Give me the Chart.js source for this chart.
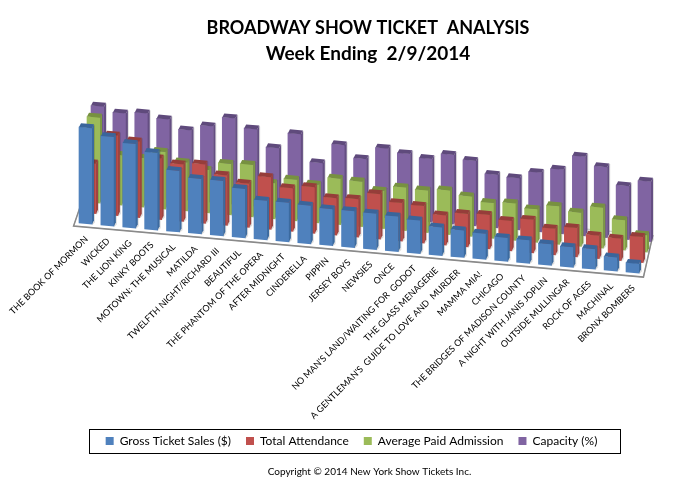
<!DOCTYPE html>
<html><head><meta charset="utf-8">
<style>html,body{margin:0;padding:0;background:#fff}canvas{display:block}</style>
<script src="https://cdn.jsdelivr.net/npm/chart.js@4"></script>
</head><body><canvas id="c" width="673" height="497"></canvas>
<script>
const shows = ["THE BOOK OF MORMON","WICKED","THE LION KING","KINKY BOOTS","MOTOWN: THE MUSICAL","MATILDA","TWELFTH NIGHT/RICHARD III","BEAUTIFUL","THE PHANTOM OF THE OPERA","AFTER MIDNIGHT","CINDERELLA","PIPPIN","JERSEY BOYS","NEWSIES","ONCE","NO MAN'S LAND/WAITING FOR  GODOT","THE GLASS MENAGERIE","A GENTLEMAN'S  GUIDE TO LOVE AND  MURDER","MAMMA MIA!","CHICAGO","THE BRIDGES OF MADISON COUNTY","A NIGHT WITH JANIS JOPLIN","OUTSIDE MULLINGAR","ROCK OF AGES","MACHINAL","BRONX BOMBERS"];
const grossTicketSales = [96,89,84,77,61,55,55,49,39,39,38,36.5,36.5,36,35,33,28,27,25.6,23.5,23,21,20,20,13.7,9.3];
const totalAttendance = [50,80,76,61,57,59,50,43.6,52,43,46,37,38,45,38,37,29.5,33,34,30,33,26,28.7,23,22,25.6];
const avgPaidAdmission = [85.5,50,49,57,48.5,43,51,52,35.5,41,38,46,45,37.6,43,42,44,40,35.4,37,33,38,33.6,40.6,30,17];
const capacityPct = [86,81,83,79,70,76,86,77,60,76,49,69,57,69.5,66,63,69,65,53,51.6,59,64,79,70.5,53.5,60];
const seriesNames = ["Gross Ticket Sales ($)","Total Attendance","Average Paid Admission","Capacity (%)"];
const frontColors = ["#4F81BD","#C0504D","#9BBB59","#8064A2"];
const topColors = ["#3A659B","#963D3A","#779140","#5F4A7C"];
const sideColors = ["#3B6A9F","#9C4340","#7D9844","#644E82"];
const titleMain = "BROADWAY SHOW TICKET  ANALYSIS";
const titleWeek = "Week Ending  2/9/2014";
const copyright = "Copyright © 2014 New York Show Tickets Inc.";

const SLOPE = 0.0896, DX = 4, DY = -10.5, FACE_DY = 4, FACE_DX = 2;
function origin(chart){ return chart.scales.x.getPixelForValue(0) - 6.5; }

const view3d = {
  id: "view3d",
  afterLayout(chart){
    const l = chart.legend;
    chart.boxes.forEach(b => {
      if (b.options && (b.options.text === titleMain || b.options.text === titleWeek)) { b.left += 9; b.right += 9; }
    });
    if (l){ l.left -= 7.5; l.right -= 7.5; l.top = 420; l.bottom = 457; }
  },
  beforeDraw(chart){
    const x = chart.scales.x, items = x.getLabelItems(chart.chartArea), o = origin(chart);
    const bottom = chart.chartArea.bottom;
    items.forEach((it, i) => {
      const px = x.getPixelForValue(i);
      it.options.translation = [px + 1, bottom + SLOPE * (px - o) + 14];
      it.options.rotation = -Math.PI / 4;
      it.options.textAlign = "right";
      it.options.textBaseline = "middle";
      it.textOffset = 0;
    });
  },
  beforeDatasetsDraw(chart){
    const c = chart.ctx, a = chart.chartArea, o = origin(chart);
    const yAt = x => a.bottom + SLOPE * (x - o);
    const fl = [a.left - 1, yAt(a.left - 1) + 3.5], fr = [a.right, yAt(a.right) + 3.5];
    const depth = 4 * DY, depthX = 4 * 3.6;
    const bl = [fl[0] + depthX, fl[1] + depth], br = [fr[0] + depthX - 5, fr[1] + depth];
    c.save();
    c.beginPath(); c.moveTo(...fl); c.lineTo(...fr); c.lineTo(...br); c.lineTo(...bl); c.closePath();
    c.fillStyle = "#fff"; c.fill();
    c.strokeStyle = "#c4c4c4"; c.lineWidth = 1; c.stroke();
    c.strokeStyle = "#8a8a8a"; c.lineWidth = 1.5;
    c.beginPath(); c.moveTo(bl[0], bl[1]); c.lineTo(...fl); c.lineTo(...fr); c.lineTo(br[0], br[1]); c.stroke();
    c.restore();
  },
  beforeDatasetDraw(chart, args){
    const c = chart.ctx, s = args.index, o = origin(chart);
    c.save();
    c.translate(DX * s, DY * s);
    c.transform(1, SLOPE, 0, 1, 0, -SLOPE * o);
  },
  afterDatasetDraw(chart, args){
    const c = chart.ctx, s = args.index;
    args.meta.data.forEach(b => {
      const L = b.x - b.width / 2, R = b.x + b.width / 2, T = b.y, B = b.base;
      c.fillStyle = "rgba(0,0,0,0.13)";
      c.beginPath(); c.moveTo(R + FACE_DX, T - FACE_DY); c.lineTo(R + FACE_DX + 1, T - FACE_DY + 1); c.lineTo(R + FACE_DX + 1, B - FACE_DY + 2); c.lineTo(R, B + 1); c.lineTo(R, T); c.closePath(); c.fill();
      c.fillStyle = sideColors[s];
      c.beginPath(); c.moveTo(R, T); c.lineTo(R + FACE_DX, T - FACE_DY); c.lineTo(R + FACE_DX, B - FACE_DY); c.lineTo(R, B); c.closePath(); c.fill();
      c.fillStyle = topColors[s];
      c.beginPath(); c.moveTo(L, T); c.lineTo(L + FACE_DX, T - FACE_DY); c.lineTo(R + FACE_DX, T - FACE_DY); c.lineTo(R, T); c.closePath(); c.fill();
    });
    c.restore();
  },
  afterDraw(chart){
    const c = chart.ctx;
    c.save(); c.strokeStyle = "#000"; c.lineWidth = 1;
    c.strokeRect(89.5, 429.5, 531, 24);
    c.fillStyle = "#000"; c.font = "10px Lato"; c.textAlign = "center"; c.textBaseline = "middle";
    c.fillText(copyright, 369.5, 472);
    c.restore();
  }
};

const series = [grossTicketSales, totalAttendance, avgPaidAdmission, capacityPct];
new Chart(document.getElementById("c"), {
  type: "bar",
  data: {
    labels: shows,
    datasets: series.map((d, i) => ({ label: seriesNames[i], data: d, backgroundColor: frontColors[i], clip: false, borderWidth: 0 }))
  },
  options: {
    responsive: false, animation: false,
    layout: { padding: { left: 74.56, right: 29.56, top: 0, bottom: 0 } },
    datasets: { bar: { grouped: false, barThickness: 13 } },
    plugins: {
      tooltip: { enabled: false },
      title: { display: true, text: titleMain, color: "#000", font: { family: "Lato", size: 18, weight: "bold", lineHeight: 1.44 }, padding: { top: 15, bottom: 0 } },
      subtitle: { display: true, text: titleWeek, color: "#000", font: { family: "Lato", size: 19, weight: "bold", lineHeight: 1.3684 }, padding: { top: 0, bottom: 36.08 } },
      legend: { position: "bottom", labels: { boxWidth: 8, boxHeight: 8, padding: 15, color: "#000", font: { family: "Lato", size: 12 } } }
    },
    scales: {
      x: {
        grid: { display: false }, border: { display: false },
        afterFit(s){ s.height = 237; },
        ticks: { autoSkip: false, maxRotation: 45, minRotation: 45, color: "#000", font: { family: "Lato", size: 9 } }
      },
      y: { display: false, min: 0, max: 120 }
    }
  },
  plugins: [view3d]
});
</script></body></html>
